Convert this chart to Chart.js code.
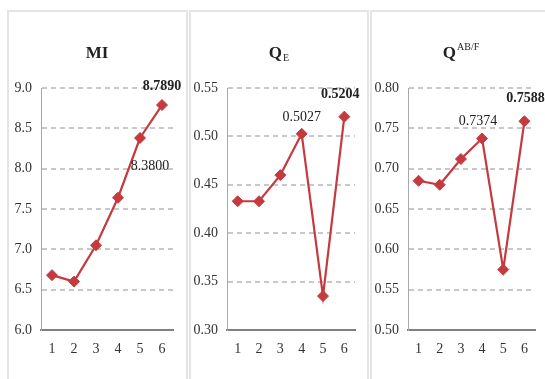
<!DOCTYPE html>
<html>
<head>
<meta charset="utf-8">
<script src="https://cdn.jsdelivr.net/npm/chart.js@4.4.1/dist/chart.umd.min.js"></script>
<style>
  html, body { margin: 0; padding: 0; background: #ffffff; }
  #wrap { position: relative; width: 545px; height: 379px; overflow: hidden; background: #fff; }
  .panel { position: absolute; top: 10px; height: 400px; border: 2px solid #e4e4e4; box-sizing: border-box; }
  canvas.layer { position: absolute; left: 0; top: 0; }
</style>
</head>
<body>
<div id="wrap">
  <div class="panel" style="left:7px;width:181px;"></div>
  <div class="panel" style="left:189px;width:180px;"></div>
  <div class="panel" style="left:370px;width:185px;"></div>
  <canvas id="c1" class="layer" width="545" height="379"></canvas>
  <canvas id="c2" class="layer" width="545" height="379"></canvas>
  <canvas id="c3" class="layer" width="545" height="379"></canvas>
</div>
<script>
// ---- data ----
const categories = ['1', '2', '3', '4', '5', '6'];
const miValues   = [6.68, 6.60, 7.05, 7.64, 8.38, 8.789];
const qeValues   = [0.433, 0.433, 0.460, 0.5027, 0.335, 0.5204];
const qabfValues = [0.685, 0.680, 0.712, 0.7374, 0.575, 0.7588];
const miTicks    = [6.0, 6.5, 7.0, 7.5, 8.0, 8.5, 9.0];
const qeTicks    = [0.30, 0.35, 0.40, 0.45, 0.50, 0.55];
const qabfTicks  = [0.50, 0.55, 0.60, 0.65, 0.70, 0.75, 0.80];
const titles = [
  { main: 'MI', sub: '', sup: '' },
  { main: 'Q', sub: 'E', sup: '' },
  { main: 'Q', sub: '', sup: 'AB/F' }
];
// indices of points that carry a value label
const miLabelIdx   = [5, 4];
const qeLabelIdx   = [3, 5];
const qabfLabelIdx = [3, 5];

const RED = '#c43a3e';
const SERIF = '"Liberation Serif", "Times New Roman", serif';

function makeChart(id, values, ticks, decimals, area, title, labels) {
  const titlePlugin = {
    id: 'panelTitle',
    afterDraw(chart) {
      const ctx = chart.ctx;
      ctx.save();
      ctx.fillStyle = '#222';
      ctx.textBaseline = 'alphabetic';
      ctx.font = 'bold 17px ' + SERIF;
      const mw = ctx.measureText(title.main).width;
      ctx.font = '10px ' + SERIF;
      const extra = title.sub || title.sup;
      const ew = extra ? ctx.measureText(extra).width + 1 : 0;
      const total = mw + ew;
      let x = area.titleX - total / 2;
      const base = 58;
      ctx.font = 'bold 17px ' + SERIF;
      ctx.fillText(title.main, x, base);
      x += mw + 1;
      ctx.font = '10px ' + SERIF;
      if (title.sub) ctx.fillText(title.sub, x, base + 3);
      if (title.sup) ctx.fillText(title.sup, x, base - 8);
      ctx.restore();
    }
  };
  const labelPlugin = {
    id: 'valueLabels',
    afterDatasetsDraw(chart) {
      const ctx = chart.ctx;
      const meta = chart.getDatasetMeta(0);
      ctx.save();
      ctx.fillStyle = '#222';
      ctx.textAlign = 'center';
      ctx.textBaseline = 'middle';
      labels.forEach(l => {
        const p = meta.data[l.idx];
        ctx.font = (l.bold ? 'bold ' : '') + '14px ' + SERIF;
        ctx.fillText(values[l.idx].toFixed(4), p.x + l.dx, p.y + l.dy);
      });
      ctx.restore();
    }
  };
  return new Chart(document.getElementById(id), {
    type: 'line',
    data: {
      labels: categories,
      datasets: [{
        data: values,
        borderColor: RED,
        backgroundColor: RED,
        borderWidth: 2.2,
        pointStyle: 'rectRot',
        pointRadius: 5.5,
        pointBorderWidth: 1,
        pointBackgroundColor: RED,
        pointBorderColor: RED,
        tension: 0
      }]
    },
    options: {
      responsive: false,
      animation: false,
      devicePixelRatio: 1,
      layout: { padding: { left: area.left - 40, right: 545 - area.right, top: 88, bottom: 0 } },
      plugins: { legend: { display: false }, tooltip: { enabled: false } },
      scales: {
        x: {
          offset: true,
          grid: { display: false, drawTicks: false },
          border: { display: true, color: '#808080', width: 2 },
          ticks: { color: '#333', font: { family: SERIF, size: 14 }, padding: 11, maxRotation: 0 },
          afterFit(s) { s.height = 49; }
        },
        y: {
          min: ticks[0],
          max: ticks[ticks.length - 1],
          afterBuildTicks(s) { s.ticks = ticks.map(v => ({ value: v })); },
          grid: { color: '#c8c8c8', lineWidth: 2, drawTicks: false },
          border: { display: true, color: '#a8a8a8', width: 1, dash: [5, 4] },
          ticks: {
            color: '#333', font: { family: SERIF, size: 14 }, padding: 9,
            callback: v => Number(v).toFixed(decimals)
          },
          afterFit(s) { s.width = 40; }
        }
      }
    },
    plugins: [titlePlugin, labelPlugin]
  });
}

makeChart('c1', miValues, miTicks, 1,
  { left: 41, right: 173, titleX: 97 }, titles[0],
  [{ idx: miLabelIdx[0], bold: true, dx: 0, dy: -19 }, { idx: miLabelIdx[1], bold: false, dx: 10, dy: 28 }]);
makeChart('c2', qeValues, qeTicks, 2,
  { left: 227, right: 355, titleX: 279 }, titles[1],
  [{ idx: qeLabelIdx[0], bold: false, dx: 0, dy: -16 }, { idx: qeLabelIdx[1], bold: true, dx: -4, dy: -22 }]);
makeChart('c3', qabfValues, qabfTicks, 2,
  { left: 408, right: 535, titleX: 461 }, titles[2],
  [{ idx: qabfLabelIdx[0], bold: false, dx: -4, dy: -17 }, { idx: qabfLabelIdx[1], bold: true, dx: 1, dy: -23 }]);
</script>
</body>
</html>
